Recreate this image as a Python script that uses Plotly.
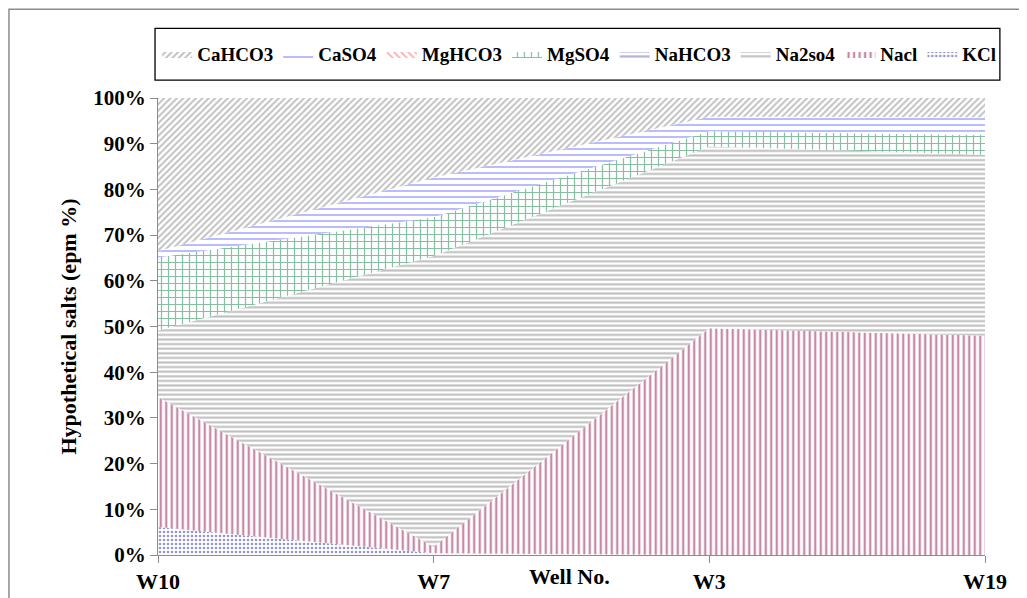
import plotly.graph_objects as go

wells = ["W10", "W7", "W3", "W19"]
kcl = [6.1, 0.4, 0.0, 0.0]
nacl = [28.5, 1.4, 49.6, 48.0]
na2so4 = [14.5, 63.6, 39.8, 39.6]
nahco3 = [0.0, 0.0, 0.0, 0.0]
mgso4 = [16.0, 8.5, 3.3, 4.3]
mghco3 = [0.0, 0.0, 0.0, 0.0]
caso4 = [1.4, 8.7, 3.2, 3.9]
cahco3 = [33.5, 17.4, 4.1, 4.2]

series = [
    ("KCl", kcl, ".", "#2f2f88", 4, 0.35),
    ("Nacl", nacl, "|", "#8e1650", 5.5, 0.42),
    ("Na2so4", na2so4, "-", "#808080", 4.6, 0.45),
    ("NaHCO3", nahco3, "-", "#6a6ab0", 5, 0.45),
    ("MgSO4", mgso4, "+", "#128048", 7, 0.32),
    ("MgHCO3", mghco3, "\\", "#ff6060", 5, 0.35),
    ("CaSO4", caso4, "-", "#5c5cff", 6, 0.28),
    ("CaHCO3", cahco3, "/", "#808080", 4.5, 0.42),
]

fig = go.Figure()
for name, vals, shape, color, size, sol in series:
    fig.add_trace(go.Scatter(
        x=wells, y=vals, name=name, mode="lines",
        stackgroup="one", groupnorm="percent",
        line=dict(width=0, color=color),
        fillcolor="rgba(0,0,0,0)",
        fillpattern=dict(shape=shape, fgcolor=color, bgcolor="white",
                         size=size, solidity=sol),
        hoverinfo="x+y+name",
    ))

font_fam = "Liberation Serif, Times New Roman, serif"

# page offset of 8px (body margin) compensated in margins
fig.update_layout(
    width=1027, height=598,
    margin=dict(l=150, r=50, t=90, b=49),
    paper_bgcolor="white", plot_bgcolor="white",
    font=dict(family=font_fam, size=18, color="black"),
    showlegend=True,
    legend=dict(orientation="h", traceorder="reversed",
                x=-0.001, xanchor="left", y=1.096, yanchor="middle",
                font=dict(family=font_fam, size=19, weight="bold"),
                bgcolor="rgba(0,0,0,0)", itemwidth=30),
    xaxis=dict(type="category", range=[0, 3], showgrid=False,
               showline=True, linecolor="#8c8c8c", linewidth=1,
               ticks="outside", ticklen=7, tickcolor="#8c8c8c",
               tickfont=dict(family=font_fam, size=22, weight="bold"),
               zeroline=False),
    yaxis=dict(range=[0, 100], dtick=10, ticksuffix="%", showgrid=False,
               showline=True, linecolor="#8c8c8c", linewidth=1,
               ticks="outside", ticklen=7, tickcolor="#8c8c8c",
               tickfont=dict(family=font_fam, size=21, weight="bold"),
               title=dict(text="Hypothetical salts (epm %)", standoff=10,
                          font=dict(family=font_fam, size=22, weight="bold")),
               zeroline=False),
    shapes=[
        dict(type="rect", xref="paper", yref="paper",
             x0=-0.1802, x1=1.0423, y0=-0.2, y1=1.194,
             line=dict(color="#8c8c8c", width=1.5), layer="below"),
        dict(type="rect", xref="paper", yref="paper",
             x0=-0.0036, x1=1.018, y0=1.039, y1=1.1525,
             line=dict(color="black", width=1.3), layer="below"),
    ],
    annotations=[
        dict(text="Well No.", xref="paper", yref="paper", x=0.498, y=-0.046,
             xanchor="center", yanchor="middle", showarrow=False,
             font=dict(family=font_fam, size=22, weight="bold")),
    ],
)

fig.write_html("out.html")
